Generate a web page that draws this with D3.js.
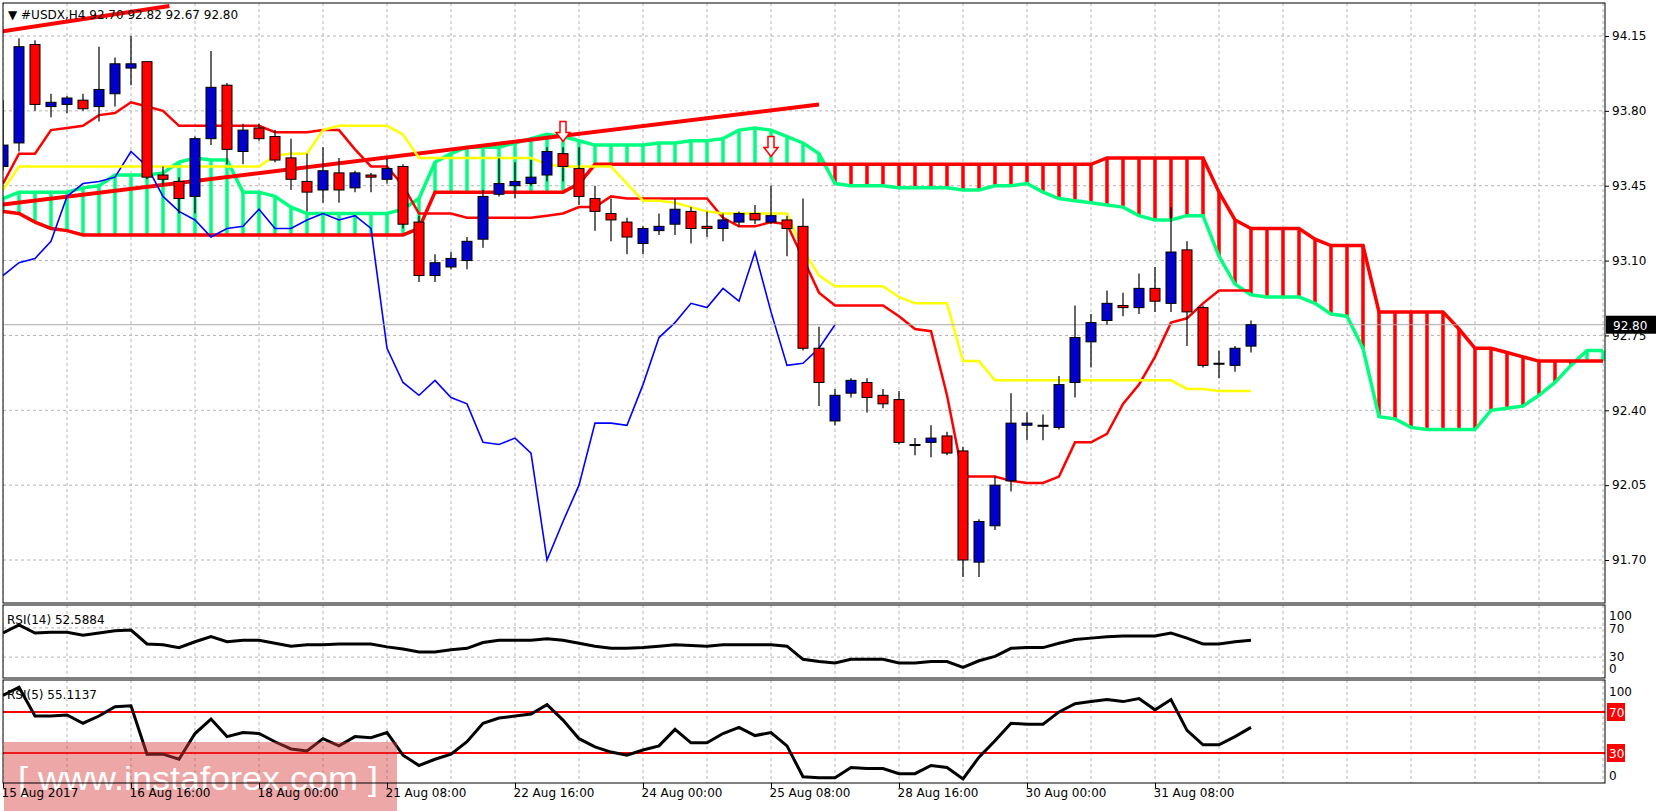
<!DOCTYPE html>
<html>
<head>
<meta charset="utf-8">
<script src="https://cdn.jsdelivr.net/npm/d3@7"></script>
<style>
  body{margin:0;background:#fff;}
  svg{display:block;font-family:Tahoma,"DejaVu Sans",sans-serif;}
</style>
</head>
<body>
<script>
// USDX H4 with ichimoku + two RSI panels

var open  = [93.54,93.65,94.11,93.82,93.83,93.85,93.82,93.88,94.00,94.03,93.50,93.47,93.40,93.67,93.92,93.61,93.72,93.68,93.58,93.47,
             93.43,93.51,93.44,93.50,93.48,93.54,93.28,93.03,93.07,93.10,93.20,93.41,93.45,93.46,93.50,93.60,93.53,93.39,93.32,93.28,
             93.18,93.24,93.27,93.33,93.26,93.25,93.28,93.32,93.28,93.29,93.26,92.69,92.35,92.48,92.53,92.47,92.45,92.24,92.25,92.28,
             92.21,91.69,91.86,92.07,92.33,92.33,92.32,92.53,92.72,92.82,92.89,92.88,92.97,92.90,93.15,92.88,92.62,92.61,92.70];
var high  = [93.85,94.14,94.13,93.88,93.87,93.88,94.10,94.05,94.15,94.03,93.54,93.49,93.68,94.08,93.93,93.74,93.74,93.71,93.67,93.60,
             93.63,93.58,93.52,93.51,93.58,93.55,93.31,93.13,93.14,93.21,93.43,93.58,93.56,93.57,93.63,93.63,93.63,93.45,93.39,93.30,
             93.26,93.32,93.39,93.35,93.33,93.32,93.33,93.36,93.45,93.31,93.39,92.79,92.50,92.55,92.55,92.50,92.49,92.27,92.33,92.30,
             92.23,91.89,92.09,92.48,92.39,92.38,92.56,92.89,92.85,92.96,92.95,93.04,93.07,93.35,93.19,92.89,92.68,92.70,92.82];
var low   = [93.52,93.61,93.80,93.77,93.79,93.80,93.75,93.82,93.92,93.48,93.45,93.32,93.32,93.64,93.55,93.55,93.66,93.56,93.43,93.33,
             93.37,93.37,93.42,93.42,93.46,93.25,93.00,93.00,93.06,93.06,93.16,93.40,93.39,93.45,93.47,93.47,93.36,93.24,93.19,93.13,
             93.13,93.22,93.22,93.18,93.21,93.19,93.26,93.27,93.27,93.12,92.68,92.42,92.33,92.46,92.39,92.41,92.24,92.19,92.18,92.19,
             91.62,91.62,91.84,92.02,92.26,92.26,92.31,92.46,92.60,92.80,92.84,92.85,92.86,92.86,92.70,92.60,92.55,92.58,92.67];
var close = [93.64,94.10,93.83,93.84,93.86,93.81,93.90,94.02,94.02,93.49,93.48,93.39,93.67,93.91,93.62,93.71,93.67,93.57,93.48,93.42,
             93.52,93.43,93.51,93.49,93.53,93.27,93.03,93.09,93.11,93.19,93.40,93.46,93.47,93.49,93.61,93.54,93.40,93.33,93.29,93.21,
             93.25,93.26,93.34,93.25,93.25,93.29,93.32,93.29,93.31,93.25,92.69,92.53,92.47,92.54,92.46,92.43,92.25,92.24,92.27,92.20,
             91.70,91.88,92.05,92.34,92.34,92.33,92.52,92.74,92.81,92.90,92.88,92.97,92.91,93.14,92.86,92.61,92.62,92.69,92.80];

var tenkan = [93.46,93.60,93.60,93.71,93.72,93.73,93.78,93.79,93.84,93.82,93.80,93.73,93.73,93.73,93.73,93.73,93.73,93.70,93.70,93.70,
              93.71,93.71,93.62,93.54,93.54,93.45,93.32,93.32,93.32,93.30,93.30,93.30,93.30,93.30,93.31,93.32,93.35,93.35,93.40,93.39,
              93.39,93.39,93.39,93.39,93.39,93.30,93.26,93.26,93.28,93.27,93.11,92.95,92.89,92.89,92.89,92.89,92.84,92.78,92.77,92.47,
              92.09,92.09,92.09,92.07,92.06,92.06,92.09,92.25,92.25,92.29,92.43,92.52,92.65,92.81,92.83,92.90,92.96,92.96,92.96];
var kijun  = [93.43,93.54,93.54,93.54,93.54,93.54,93.54,93.54,93.54,93.54,93.54,93.54,93.54,93.54,93.54,93.54,93.54,93.59,93.60,93.60,
              93.71,93.73,93.73,93.73,93.73,93.69,93.58,93.58,93.58,93.58,93.58,93.58,93.58,93.58,93.55,93.54,93.54,93.54,93.54,93.46,
              93.38,93.38,93.37,93.35,93.33,93.32,93.32,93.32,93.32,93.32,93.15,93.03,92.98,92.98,92.98,92.98,92.93,92.90,92.90,92.90,
              92.63,92.63,92.54,92.54,92.54,92.54,92.54,92.54,92.54,92.54,92.54,92.54,92.54,92.54,92.50,92.50,92.49,92.49,92.49];
var spanA  = [93.39,93.42,93.42,93.42,93.42,93.44,93.45,93.50,93.50,93.50,93.51,93.56,93.58,93.57,93.57,93.42,93.42,93.40,93.35,93.32,
              93.32,93.32,93.32,93.32,93.32,93.34,93.39,93.56,93.60,93.63,93.63,93.63,93.65,93.67,93.69,93.68,93.66,93.64,93.64,93.64,
              93.64,93.65,93.65,93.66,93.66,93.67,93.71,93.72,93.71,93.68,93.65,93.60,93.46,93.45,93.45,93.45,93.44,93.44,93.44,93.44,
              93.43,93.43,93.45,93.45,93.46,93.42,93.39,93.38,93.37,93.36,93.35,93.31,93.29,93.29,93.31,93.31,93.12,92.99,92.94,92.93,
              92.93,92.93,92.90,92.85,92.84,92.69,92.37,92.36,92.32,92.31,92.31,92.31,92.31,92.40,92.41,92.42,92.47,92.53,92.61,92.68,92.68];
var spanB  = [93.33,93.32,93.28,93.25,93.24,93.22,93.22,93.22,93.22,93.22,93.22,93.22,93.22,93.22,93.22,93.22,93.22,93.22,93.22,93.22,
              93.22,93.22,93.22,93.22,93.22,93.22,93.25,93.42,93.42,93.42,93.42,93.42,93.42,93.42,93.42,93.42,93.46,93.55,93.55,93.55,
              93.55,93.55,93.55,93.55,93.55,93.55,93.55,93.55,93.55,93.55,93.55,93.55,93.55,93.55,93.55,93.55,93.55,93.55,93.55,93.55,
              93.55,93.55,93.55,93.55,93.55,93.55,93.55,93.55,93.55,93.58,93.58,93.58,93.58,93.58,93.58,93.58,93.42,93.29,93.25,93.25,
              93.25,93.25,93.20,93.17,93.17,93.17,92.86,92.86,92.86,92.86,92.86,92.78,92.69,92.69,92.67,92.65,92.63,92.63,92.63,92.63,92.63];

var rsi14 = [63,74,63,64,64,60,63,66,67,48,47,43,51,58,51,53,53,49,45,47,
             47,48,48,48,44,41,37,37,40,42,50,53,53,53,55,53,49,45,42,42,
             43,45,47,46,45,47,47,47,47,45,27,24,22,27,27,27,22,22,24,24,
             16,25,31,42,43,43,49,54,56,58,59,59,59,63,56,48,48,51,53];
var rsi5  = [86,94,66,66,67,59,66,75,76,29,29,24,49,63,46,50,49,41,34,32,
             44,37,46,45,50,28,18,24,29,41,59,64,66,68,77,62,44,36,31,28,
             33,37,53,40,40,49,55,47,50,37,7,6,6,16,15,15,10,10,18,16,
             5,26,42,59,58,58,70,78,80,82,80,83,72,82,52,38,38,46,55];

var priceTicks = [94.15,93.80,93.45,93.10,92.75,92.40,92.05,91.70];
var dateBars = [0,8,16,24,32,40,48,56,64,72];
var dateLabels = ['15 Aug 2017','16 Aug 16:00','18 Aug 00:00','21 Aug 08:00','22 Aug 16:00',
                  '24 Aug 00:00','25 Aug 08:00','28 Aug 16:00','30 Aug 00:00','31 Aug 08:00'];
// hand drawn trend lines [bar, price] -> [bar, price]
var trendLines = [[[-0.2,93.36],[51,93.83]], [[-0.2,94.17],[10.4,94.29]]];
var arrows = [[35,93.75],[48,93.68]];
var lastPrice = 92.80;
var chikouShift = 26;

var W = 1657, H = 811, left = 3, right = 1605;
var x = d3.scaleLinear().domain([0,1]).range([3,19]);
var y = d3.scaleLinear().domain([91.70,94.15]).range([560,36]);
var yR14 = d3.scaleLinear().domain([0,100]).range([679,606]);
var yR5 = d3.scaleLinear().domain([0,100]).range([784,681]);

var svg = d3.select('body').append('svg').attr('width',W).attr('height',H);
var defs = svg.append('defs');
defs.append('clipPath').attr('id','cm').append('rect').attr('x',left).attr('y',3).attr('width',right-left).attr('height',600);
defs.append('clipPath').attr('id','c14').append('rect').attr('x',left).attr('y',605).attr('width',right-left).attr('height',73);
defs.append('clipPath').attr('id','c5').append('rect').attr('x',left).attr('y',680).attr('width',right-left).attr('height',104);

var gridCol = '#b4b4b4';
var vBars = d3.range(0,101,4);

function vgrid(g,y0,y1){
  g.selectAll('line.vg').data(vBars).enter().append('line')
    .attr('x1',function(d){return x(d);}).attr('x2',function(d){return x(d);})
    .attr('y1',y0).attr('y2',y1)
    .attr('stroke',gridCol).attr('stroke-dasharray','3,3');
}

// ---------- main panel
var gm = svg.append('g').attr('clip-path','url(#cm)');
vgrid(gm,3,603);
gm.selectAll('line.hg').data(priceTicks).enter().append('line')
  .attr('x1',left).attr('x2',right)
  .attr('y1',function(d){return y(d);}).attr('y2',function(d){return y(d);})
  .attr('stroke',gridCol).attr('stroke-dasharray','3,3');

// cloud hatch
gm.selectAll('line.hatch').data(spanA).enter().append('line')
  .attr('x1',function(d,i){return x(i);}).attr('x2',function(d,i){return x(i);})
  .attr('y1',function(d){return y(d);}).attr('y2',function(d,i){return y(spanB[i]);})
  .attr('stroke',function(d,i){return d>=spanB[i]?'#00ff7f':'#ff0000';})
  .attr('stroke-width',3.5);

function line(sc){
  return d3.line().x(function(d,i){return x(i);}).y(function(d){return sc(d);});
}
gm.append('path').attr('d',line(y)(spanA)).attr('fill','none').attr('stroke','#00ff7f').attr('stroke-width',3.5);
gm.append('path').attr('d',line(y)(spanB)).attr('fill','none').attr('stroke','#ff0000').attr('stroke-width',3.5);

trendLines.forEach(function(t){
  gm.append('line').attr('x1',x(t[0][0])).attr('y1',y(t[0][1]))
    .attr('x2',x(t[1][0])).attr('y2',y(t[1][1]))
    .attr('stroke','#ff0000').attr('stroke-width',4);
});

// chikou = close drawn 26 bars back
var chikou = close.slice(chikouShift);
gm.append('path').attr('d',line(y)(chikou)).attr('fill','none').attr('stroke','#0000ff').attr('stroke-width',1.6);
gm.append('path').attr('d',line(y)(tenkan)).attr('fill','none').attr('stroke','#ff0000').attr('stroke-width',2.5);
gm.append('path').attr('d',line(y)(kijun)).attr('fill','none').attr('stroke','#ffff00').attr('stroke-width',2.5);

gm.append('line').attr('x1',left).attr('x2',right).attr('y1',y(lastPrice)).attr('y2',y(lastPrice))
  .attr('stroke','#a8a8a8').attr('stroke-width',1);

// candles
var cg = gm.selectAll('g.c').data(close).enter().append('g');
cg.append('line')
  .attr('x1',function(d,i){return x(i);}).attr('x2',function(d,i){return x(i);})
  .attr('y1',function(d,i){return y(high[i]);}).attr('y2',function(d,i){return y(low[i]);})
  .attr('stroke','#000').attr('stroke-width',1.2);
cg.append('rect')
  .attr('x',function(d,i){return x(i)-5;})
  .attr('y',function(d,i){return y(Math.max(open[i],d));})
  .attr('width',10)
  .attr('height',function(d,i){return Math.max(1,Math.abs(y(open[i])-y(d)));})
  .attr('fill',function(d,i){return d>open[i]?'#0000c8':(d<open[i]?'#ff0000':'#000');})
  .attr('stroke','#000').attr('stroke-width',1);

// arrows
arrows.forEach(function(a){
  var cx = x(a[0]), ty = y(a[1]);
  var p = [[cx-3,ty],[cx+3,ty],[cx+3,ty+11],[cx+7,ty+11],[cx,ty+20],[cx-7,ty+11],[cx-3,ty+11]];
  gm.append('path').attr('d','M'+p.join('L')+'Z').attr('fill','#fff').attr('stroke','#ff0000').attr('stroke-width',1.5);
});

// ---------- RSI 14
var g14 = svg.append('g').attr('clip-path','url(#c14)');
vgrid(g14,605,678);
[70,30].forEach(function(v){
  g14.append('line').attr('x1',left).attr('x2',right).attr('y1',yR14(v)).attr('y2',yR14(v))
    .attr('stroke',gridCol).attr('stroke-dasharray','3,3');
});
g14.append('path').attr('d',line(yR14)(rsi14)).attr('fill','none').attr('stroke','#000').attr('stroke-width',3);

// ---------- RSI 5
var g5 = svg.append('g').attr('clip-path','url(#c5)');
vgrid(g5,680,783);
[70,30].forEach(function(v){
  g5.append('line').attr('x1',left).attr('x2',right).attr('y1',yR5(v)).attr('y2',yR5(v))
    .attr('stroke','#ff0000').attr('stroke-width',2);
});
g5.append('path').attr('d',line(yR5)(rsi5)).attr('fill','none').attr('stroke','#000').attr('stroke-width',3);

// watermark
svg.append('rect').attr('x',4).attr('y',742).attr('width',393).attr('height',69).attr('fill','rgba(214,60,60,0.45)');
svg.append('text').attr('x',18).attr('y',790).attr('fill','#fff')
  .attr('font-family','"Liberation Sans Narrow","Liberation Sans",sans-serif').attr('font-size',34)
  .attr('textLength',360).attr('lengthAdjust','spacingAndGlyphs')
  .text('[  www.instaforex.com  ]');

// panel borders
[[3,603],[605,678],[680,783]].forEach(function(b){
  svg.append('rect').attr('x',left).attr('y',b[0]).attr('width',right-left).attr('height',b[1]-b[0])
    .attr('fill','none').attr('stroke','#000').attr('stroke-width',1);
});

// axes
var ax = svg.append('g').attr('transform','translate('+right+',0)')
  .call(d3.axisRight(y).tickValues(priceTicks).tickFormat(d3.format('.2f')).tickSize(4));
ax.select('.domain').remove();
ax.selectAll('text').attr('font-size',12).attr('font-family','"DejaVu Sans",sans-serif').attr('fill','#000');

svg.append('rect').attr('x',right+1).attr('y',y(lastPrice)-9).attr('width',50).attr('height',18).attr('fill','#000');
svg.append('text').attr('x',right+8).attr('y',y(lastPrice)+5).attr('fill','#fff')
  .attr('font-size',12).attr('font-family','"DejaVu Sans",sans-serif').text(d3.format('.2f')(lastPrice));

var r14Lbl = [[100,616],[70,629],[30,657],[0,669]];
r14Lbl.forEach(function(d){
  svg.append('text').attr('x',right+4).attr('y',d[1]+4).attr('font-size',12)
    .attr('font-family','"DejaVu Sans",sans-serif').text(d[0]);
});
[[100,691,false],[70,712,true],[30,753,true],[0,775,false]].forEach(function(d){
  if(d[2]) svg.append('rect').attr('x',right+2).attr('y',d[1]-9).attr('width',18).attr('height',18).attr('fill','#ff0000');
  svg.append('text').attr('x',right+4).attr('y',d[1]+5).attr('font-size',12)
    .attr('font-family','"DejaVu Sans",sans-serif').attr('fill',d[2]?'#fff':'#000').text(d[0]);
});

// date axis
var dx = svg.append('g').attr('transform','translate(0,783)')
  .call(d3.axisBottom(x).tickValues(dateBars).tickSize(5)
    .tickFormat(function(d,i){return dateLabels[i];}));
dx.select('.domain').remove();
dx.selectAll('text').attr('text-anchor','start').attr('dx',-2).attr('dy',6)
  .attr('font-size',12).attr('font-family','"DejaVu Sans",sans-serif').attr('fill','#000');

// titles
svg.append('text').attr('x',8).attr('y',19).attr('font-size',12).attr('font-family','"DejaVu Sans",sans-serif')
  .text('\u25BC #USDX,H4  92.70 92.82 92.67 92.80');
svg.append('text').attr('x',7).attr('y',624).attr('font-size',12).attr('font-family','"DejaVu Sans",sans-serif')
  .text('RSI(14) 52.5884');
svg.append('text').attr('x',7).attr('y',699).attr('font-size',12).attr('font-family','"DejaVu Sans",sans-serif')
  .text('RSI(5) 55.1137');
</script>
</body>
</html>
